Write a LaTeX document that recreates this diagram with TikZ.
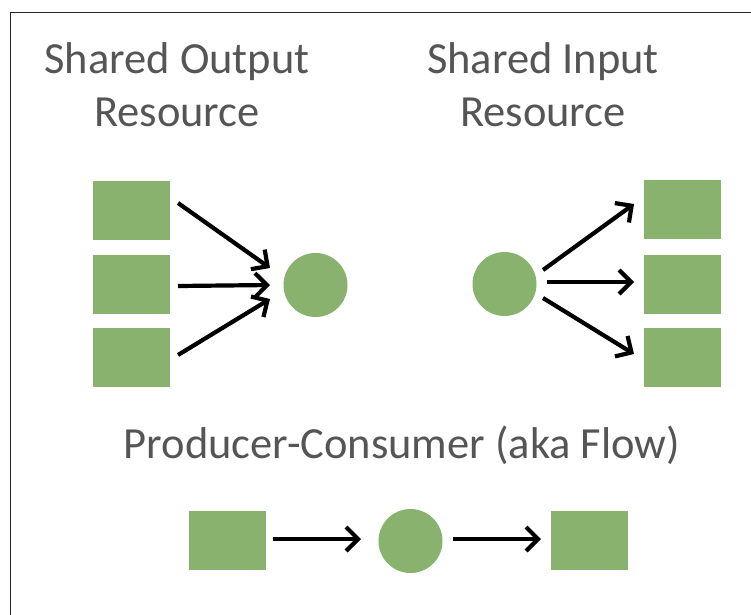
\documentclass[tikz,border=0pt]{standalone}
\usepackage{fontspec}
\setmainfont{Carlito}
\usetikzlibrary{arrows.meta}
\definecolor{boxgreen}{RGB}{136,178,110}
\definecolor{txtgray}{RGB}{85,85,85}
\tikzset{
  res/.style={fill=boxgreen, draw=none, minimum width=77pt, minimum height=59pt, inner sep=0pt},
  dot/.style={circle, fill=boxgreen, draw=none, minimum size=64pt, inner sep=0pt},
  flow/.style={line width=4.2pt, -{Straight Barb[length=12pt,width=24pt,line width=4.2pt]}},
  title/.style={text=txtgray, font=\fontsize{44.5}{53}\selectfont, align=center, inner sep=0pt, anchor=base}
}
\begin{document}
\begin{tikzpicture}[x=1pt,y=-1pt]
\useasboundingbox (0,0) rectangle (751,614);
\clip (0,0) rectangle (751,614);
\fill[white] (0,0) rectangle (751,614);
\draw[line width=1.6pt, draw=black!85] (10.5,12.5) rectangle (800,700);

\node[title] (t1) at (177,126) {Shared Output\\Resource};
\node[title] (t2) at (543,126) {Shared Input\\Resource};
\node[title] (t3) at (402,458) {Producer-Consumer (aka Flow)};

% left group
\node[res] (a1) at (131.5,210) {};
\node[res] (a2) at (131.5,284.5) {};
\node[res] (a3) at (131.5,357) {};
\node[dot] (ac) at (315.5,285) {};
\coordinate (a1s) at (178,203);
\coordinate (a2s) at (178,286);
\coordinate (a3s) at (178,355);
\coordinate (a1e) at (270,268);
\coordinate (a2e) at (270,285);
\coordinate (a3e) at (270,299);
\draw[flow] (a1s) -- (a1e);
\draw[flow] (a2s) -- (a2e);
\draw[flow] (a3s) -- (a3e);

% right group
\node[dot] (bc) at (504.5,284) {};
\node[res] (b1) at (682,209) {};
\node[res] (b2) at (682,284) {};
\node[res] (b3) at (682,357) {};
\coordinate (b1s) at (543,270);
\coordinate (b2s) at (547,282);
\coordinate (b3s) at (543,298);
\coordinate (b1e) at (634,204);
\coordinate (b2e) at (634,282);
\coordinate (b3e) at (634,354);
\draw[flow] (b1s) -- (b1e);
\draw[flow] (b2s) -- (b2e);
\draw[flow] (b3s) -- (b3e);

% bottom flow
\node[res] (p) at (227,540.5) {};
\node[dot] (m) at (410.5,541) {};
\node[res] (c) at (589.5,540.5) {};
\coordinate (ps) at (273,539);
\coordinate (me) at (361,539);
\coordinate (ms) at (453,539);
\coordinate (ce) at (541,539);
\draw[flow] (ps) -- (me);
\draw[flow] (ms) -- (ce);
\end{tikzpicture}
\end{document}
